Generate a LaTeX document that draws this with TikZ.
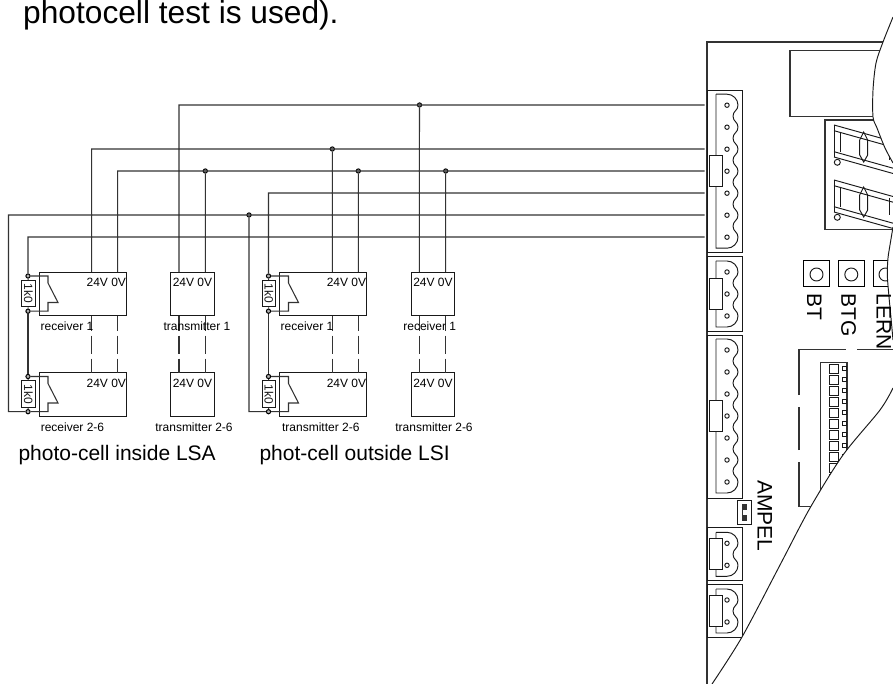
\documentclass[tikz,border=0pt]{standalone}
\usepackage{fontspec}
\setmainfont{Liberation Sans}
\newcommand{\plug}[4]{% box top, box bottom, first pin, pin gaps
\draw[thin] (707,#1) rectangle (742,#2);
\draw[thin] (716,#3-11) -- (727,#3-11) .. controls (733,#3-11) and (738,#3-6) .. (738,#3);
\foreach \i in {1,...,#4}
\draw[thin] (738,#3+22*\i-22) .. controls (738,#3+22*\i-16.5) and (733,#3+22*\i-16.5) .. (733,#3+22*\i-11)
.. controls (733,#3+22*\i-5.5) and (738,#3+22*\i-5.5) .. (738,#3+22*\i);
\draw[thin] (738,#3+22*#4) .. controls (738,#3+22*#4+6) and (733,#3+22*#4+11) .. (727,#3+22*#4+11) -- (716,#3+22*#4+11) -- (716,#3-11);
\foreach \i in {0,...,#4}
\draw[thin,fill=white] (727,#3+22*\i) circle (2.2pt);
\draw[thin,fill=white] (709.5,#3+11*#4-15.4) rectangle (722.5,#3+11*#4+15.4);
}
\begin{document}
\begin{tikzpicture}[x=1pt,y=-1pt,
wire/.style={line width=1.05pt,black!80},
thin/.style={line width=.95pt,black!90},
gapwire/.style={wire,dash pattern=on 15pt off 5pt on 18pt off 5pt on 20pt},
dot/.style={draw,circle,inner sep=1.5pt,fill=black!30,line width=1pt},
unitwide/.style={draw,line width=1pt,black!90,minimum width=87pt,minimum height=43.5pt,inner sep=0pt},
unitnarrow/.style={draw,line width=1pt,black!90,minimum width=43.5pt,minimum height=43.5pt,inner sep=0pt},
resistor/.style={draw,line width=1pt,black!90,fill=white,minimum width=13.5pt,minimum height=26.5pt,inner sep=0pt},
smalltxt/.style={font=\fontsize{12}{14}\selectfont,inner sep=0pt,anchor=base},
bigtxt/.style={font=\fontsize{21}{24}\selectfont,inner sep=0pt,anchor=base west},
sidetxt/.style={font=\fontsize{21}{24}\selectfont,inner sep=0pt,anchor=base west,rotate=-90}]
\useasboundingbox (0,0) rectangle (893,684);
\node (title) at (23,23.5) [font=\fontsize{31.7}{36}\selectfont,inner sep=0pt,anchor=base west] {photocell test is used).};

% bus ends at the first plug
\coordinate (e1) at (704.7,105);
\coordinate (e2) at (704.7,149);
\coordinate (e3) at (704.7,171);
\coordinate (e4) at (704.7,193);
\coordinate (e5) at (704.7,215);
\coordinate (e6) at (704.7,237);
\coordinate (lft) at (8.5,411.7);

% units
\node (r1) at (83,293.8) [unitwide] {};
\node (r2) at (83,394.3) [unitwide] {};
\node (t1) at (192.3,293.8) [unitnarrow] {};
\node (t2) at (192.3,394.3) [unitnarrow] {};
\node (r3) at (323.2,293.8) [unitwide] {};
\node (r4) at (323.2,394.3) [unitwide] {};
\node (t3) at (432.8,293.8) [unitnarrow] {};
\node (t4) at (432.8,394.3) [unitnarrow] {};

\foreach \n/\X in {a/91.7,b/179,c/332.3,d/419.3}
\coordinate (\n24) at (\X,272);
\foreach \n/\X in {a/117.7,b/205.3,c/358.3,d/445.7}
\coordinate (\n0) at (\X,272);
\foreach \n/\X in {a/91.7,a/117.7,b/179,b/205.3,c/332.3,c/358.3,d/419.3,d/445.7}
\draw[gapwire] (\X,315.5) -- (\X,372.5);

% volt labels
\foreach \n/\X in {a/106.3,b/192.5,c/346.5,d/433}
{
\node (\n v1) at (\X,287) [smalltxt] {24V 0V};
\node (\n v2) at (\X,387.8) [smalltxt] {24V 0V};
}
\node (l1) at (67,330.7) [smalltxt] {receiver 1};
\node (l2) at (72.5,431.7) [smalltxt] {receiver 2-6};
\node (l3) at (197,330.7) [smalltxt] {transmitter 1};
\node (l4) at (194,431.7) [smalltxt] {transmitter 2-6};
\node (l5) at (307,330.7) [smalltxt] {receiver 1};
\node (l6) at (320.8,431.7) [smalltxt] {transmitter 2-6};
\node (l7) at (429.7,330.7) [smalltxt] {receiver 1};
\node (l8) at (434,431.7) [smalltxt] {transmitter 2-6};
\node (l9) at (18.3,460) [bigtxt] {photo-cell inside LSA};
\node (l10) at (259.3,460) [bigtxt] {phot-cell outside LSI};

% relay contacts with resistor
\foreach \n/\X/\Y in {k1/0/0,k2/0/100.5,k3/240.5/0,k4/240.5/100.5}
{
\node (\n top) at (28+\X,276+\Y) [dot] {};
\node (\n bot) at (28+\X,311.2+\Y) [dot] {};
\node (\n res) at (28.5+\X,293.6+\Y) [resistor] {\rotatebox{-90}{\fontsize{12}{14}\selectfont 1k0}};
\draw[wire] (\n top) -- (\n res) -- (\n bot);
\draw[wire] (\n top) -- (48+\X,276+\Y) -- (48+\X,283+\Y) -- (58+\X,302.5+\Y) -- (48+\X,302.5+\Y) -- (48+\X,311.2+\Y) -- (\n bot);
}
\draw[wire] (k1bot) -- (k2top);
\draw[wire] (k3bot) -- (k4top);

% bus wires
\node (n1) at (419.5,105) [dot] {};
\node (n2) at (332.3,149) [dot] {};
\node (n3) at (205.3,171) [dot] {};
\node (n4) at (358.3,171) [dot] {};
\node (n5) at (445.7,171) [dot] {};
\node (n6) at (249,215) [dot] {};
\draw[wire]
(e1) -| (b24)
(n1) to (d24)
(e2) -| (a24)
(n2) to (c24)
(e3) -| (a0)
(n3) to (b0)
(n4) to (c0)
(n5) to (d0)
(e4) -| (k3top)
(e5) -| (lft) -- (k2bot)
(n6) |- (k4bot)
(e6) -| (k1top);

% board
\draw[wire] (707,684) -- (707,42) -- (885,42);
\plug{90}{252}{105.2}{6}
\plug{256}{331}{272}{2}
\plug{335.5}{498}{350}{6}
\plug{527.7}{580}{543.3}{1}
\plug{584.7}{637}{600}{1}
\draw[thin] (737.3,500.7) rectangle (751.3,524);
\fill[black!80] (741.7,504) rectangle (747.3,520.7);
\fill[white] (742.5,510) rectangle (746.5,515);
\draw[wire] (790,50.7) rectangle (900,116.3);
\draw[wire] (900,120) -- (825,120) -- (825,229.5) -- (900,229.5);

% displays
\foreach \Y in {0,55}
{
\draw[thin] (834,125+\Y) -- (834,157+\Y);
\draw[thin] (840.7,132+\Y) -- (840.7,152+\Y);
\draw[thin] (834,125+\Y) -- (893,141.5+\Y);
\draw[thin] (834,130.7+\Y) -- (893,147.2+\Y);
\draw[thin] (834,151.7+\Y) -- (893,168.2+\Y);
\draw[thin] (834,157+\Y) -- (893,173.5+\Y);
\draw[thin] (863.7,132+\Y) -- (867.7,140+\Y) -- (867.7,155+\Y) -- (863.7,162+\Y) -- (859.7,155+\Y) -- (859.7,140+\Y) -- cycle;
\draw[thin] (889,143+\Y) -- (889,160+\Y);
\draw[thin] (837.3,162.3+\Y) circle (3pt);
}

% keys
\node (k5) at (816.7,273.8) [draw,line width=.95pt,minimum size=26pt,inner sep=0pt] {};
\node (k6) at (851.3,273.8) [draw,line width=.95pt,minimum size=26pt,inner sep=0pt] {};
\node (k7) at (886,273.8) [draw,line width=.95pt,minimum size=26pt,inner sep=0pt] {};
\foreach \X in {816.5,851.3,885.5}
\draw[thin] (\X,274.5) circle (6.5pt);

% switch block
\draw[wire] (799,506.7) -- (799,461.7) (799,450) -- (799,406.7) (799,395) -- (799,349.3) -- (845.7,349.3) (857.3,349.3) -- (893,349.3);
\draw[wire] (812,506.7) -- (799,506.7);
\draw[wire] (820.7,500) -- (820.7,362.7) -- (847,362.7) -- (847,470);
\foreach \i in {0,...,11}
\draw[thin,fill=white] (829.3,364+11*\i) rectangle (838.7,373+11*\i);
\foreach \i in {0,...,10}
\draw[thin,fill=white] (842,366.3+11*\i) rectangle (846.5,370.5+11*\i);

% torn edges
\fill[white] plot[smooth] coordinates {(893,17) (883,42) (876,63) (873,90) (873,117) (877,128) (885,148) (893,163)} -- cycle;
\fill[white] plot[smooth] coordinates {(893,227) (890,245) (888,258) (887.3,275) (889,297) (891,318) (893,340)} -- cycle;
\fill[white] plot[smooth] coordinates {(893,388) (880,410) (843,455) (810,508) (780,565) (742,637) (712,684)} -- (893,684) -- cycle;
\draw[thin] plot[smooth] coordinates {(893,17) (883,42) (876,63) (873,90) (873,117) (877,128) (885,148) (893,163)};
\draw[thin] plot[smooth] coordinates {(893,227) (890,245) (888,258) (887.3,275) (889,297) (891,318) (893,340)};
\draw[thin] plot[smooth] coordinates {(893,388) (880,410) (843,455) (810,508) (780,565) (742,637) (712,684)};

\node (bt) at (807,293.3) [sidetxt] {BT};
\node (btg) at (841.3,293.3) [sidetxt] {BTG};
\node (lern) at (876.5,293.3) [sidetxt] {LERN};
\node (ampel) at (757.7,480) [sidetxt] {AMPEL};
\end{tikzpicture}
\end{document}
